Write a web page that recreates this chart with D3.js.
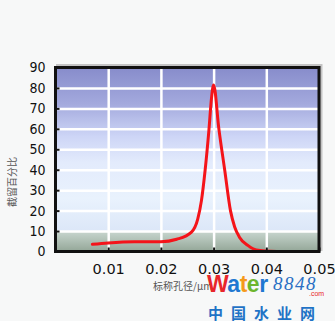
<!DOCTYPE html>
<html>
<head>
<meta charset="utf-8">
<script src="https://cdn.jsdelivr.net/npm/d3@7"></script>
<style>
  body { margin: 0; background: #f7f8f8; }
  svg { display: block; }
</style>
</head>
<body>
<svg width="335" height="321"></svg>
<script>
// Curve
var poreSize = [0.007, 0.010, 0.015, 0.020, 0.023, 0.0258, 0.0270, 0.0277, 0.0284, 0.0291, 0.0296, 0.0300, 0.0310, 0.0321, 0.0332, 0.0340, 0.0349, 0.0365, 0.0381, 0.0420];
var retention = [3.5, 4.2, 4.8, 4.8, 6, 9.5, 16, 25, 40, 59, 75, 81.5, 60, 40, 20, 12, 7, 3, 0.8, 0];
var xTicks = [0.01, 0.02, 0.03, 0.04, 0.05];
var yTicks = [0, 10, 20, 30, 40, 50, 60, 70, 80, 90];
var xTitle = "标称孔径/μm";
var yTitle = "截留百分比";

var svg = d3.select("svg");
var pLeft = 55.5, pRight = 319, pTop = 67.5, pBottom = 251.5;

var x = d3.scaleLinear().domain([0, 0.05]).range([pLeft, pRight]);
var y = d3.scaleLinear().domain([0, 90]).range([pBottom, pTop]);

// Gradients
var defs = svg.append("defs");
var g1 = defs.append("linearGradient").attr("id", "sky").attr("x1", 0).attr("y1", 0).attr("x2", 0).attr("y2", 1);
[[0, "#878ccb"], [0.22, "#a3a9dd"], [0.42, "#cdd5f6"], [0.58, "#e3ebfc"], [0.8, "#e9f2fd"], [1, "#dce7f8"]].forEach(function(s) {
    g1.append("stop").attr("offset", s[0]).attr("stop-color", s[1]);
});
var g2 = defs.append("linearGradient").attr("id", "ground").attr("x1", 0).attr("y1", 0).attr("x2", 0).attr("y2", 1);
[[0, "#c9d7d0"], [1, "#93a697"]].forEach(function(s) {
    g2.append("stop").attr("offset", s[0]).attr("stop-color", s[1]);
});

// shadow of the frame
svg.append("rect")
    .attr("x", pLeft + 2).attr("y", pTop - 2)
    .attr("width", pRight - pLeft).attr("height", pBottom - pTop)
    .attr("fill", "none").attr("stroke", "#c4c4c4").attr("stroke-width", 3);

// plot background
svg.append("rect")
    .attr("x", pLeft).attr("y", y(90))
    .attr("width", pRight - pLeft).attr("height", y(10) - y(90))
    .attr("fill", "url(#sky)");
svg.append("rect")
    .attr("x", pLeft).attr("y", y(10))
    .attr("width", pRight - pLeft).attr("height", y(0) - y(10))
    .attr("fill", "url(#ground)");

// grid
svg.append("g")
    .attr("transform", "translate(" + pLeft + ",0)")
    .call(d3.axisLeft(y).tickValues(yTicks.slice(1, -1)).tickSize(-(pRight - pLeft)).tickFormat(""))
    .call(function(g) {
        g.select(".domain").remove();
        g.selectAll("line").attr("stroke", "#fff").attr("stroke-width", 2.5);
    });
svg.append("g")
    .attr("transform", "translate(0," + pBottom + ")")
    .call(d3.axisBottom(x).tickValues(xTicks.slice(0, -1)).tickSize(-(pBottom - pTop)).tickFormat(""))
    .call(function(g) {
        g.select(".domain").remove();
        g.selectAll("line").attr("stroke", "#fff").attr("stroke-width", 2.5);
    });

// curve
var line = d3.line()
    .x(function(d, i) { return x(poreSize[i]); })
    .y(function(d) { return y(d); })
    .curve(d3.curveMonotoneX);
svg.append("path")
    .datum(retention)
    .attr("d", line)
    .attr("fill", "none")
    .attr("stroke", "#f4141a")
    .attr("stroke-width", 3)
    .attr("stroke-linecap", "round");

// frame
svg.append("rect")
    .attr("x", pLeft).attr("y", pTop)
    .attr("width", pRight - pLeft).attr("height", pBottom - pTop)
    .attr("fill", "none").attr("stroke", "#111").attr("stroke-width", 3);

// axes
svg.append("g")
    .attr("transform", "translate(" + pLeft + ",0)")
    .call(d3.axisLeft(y).tickValues(yTicks).tickSizeInner(-4).tickSizeOuter(0).tickPadding(10))
    .call(function(g) {
        g.select(".domain").remove();
        g.selectAll("line").attr("stroke", "#111").attr("stroke-width", 2);
        g.selectAll("text").attr("font-family", "DejaVu Sans Condensed, DejaVu Sans")
            .attr("font-size", 14).attr("fill", "#111");
    });
svg.append("g")
    .attr("transform", "translate(0," + pBottom + ")")
    .call(d3.axisBottom(x).tickValues(xTicks).tickFormat(d3.format(".2f")).tickSizeInner(-4).tickSizeOuter(0).tickPadding(12))
    .call(function(g) {
        g.select(".domain").remove();
        g.selectAll("line").attr("stroke", "#111").attr("stroke-width", 2);
        g.selectAll("text").attr("font-family", "DejaVu Sans")
            .attr("font-size", 14.5).attr("fill", "#111");
    });

// titles
svg.append("text")
    .attr("transform", "translate(16,182) rotate(-90)")
    .attr("text-anchor", "middle")
    .attr("font-family", "Noto Sans CJK SC")
    .attr("font-size", 10).attr("fill", "#555")
    .text(yTitle);
svg.append("text")
    .attr("x", 153).attr("y", 290)
    .attr("font-family", "Noto Sans CJK SC")
    .attr("font-size", 10).attr("fill", "#555")
    .text(xTitle);

// watermark
var wm = svg.append("text")
    .attr("x", 207).attr("y", 292)
    .attr("font-family", "Liberation Sans").attr("font-weight", "bold")
    .attr("font-size", 23).attr("letter-spacing", -0.5);
[["W", "#e8262b"], ["a", "#1f78d1"], ["t", "#f59a1b"], ["e", "#6cb52d"], ["r", "#1f78d1"]].forEach(function(c) {
    wm.append("tspan").attr("fill", c[1]).text(c[0]);
});
svg.append("text")
    .attr("x", 273).attr("y", 290)
    .attr("font-family", "Liberation Serif").attr("font-style", "italic")
    .attr("font-size", 19).attr("letter-spacing", 1.5).attr("fill", "#2a6fc4")
    .text("8848");
svg.append("text")
    .attr("x", 309).attr("y", 296)
    .attr("font-family", "Liberation Sans")
    .attr("font-size", 7).attr("fill", "#e8262b")
    .text(".com");
svg.append("text")
    .attr("x", 208).attr("y", 319)
    .attr("font-family", "Noto Sans CJK SC").attr("font-weight", "bold")
    .attr("font-size", 15).attr("letter-spacing", 8).attr("fill", "#1f73c6")
    .text("中国水业网");
</script>
</body>
</html>
